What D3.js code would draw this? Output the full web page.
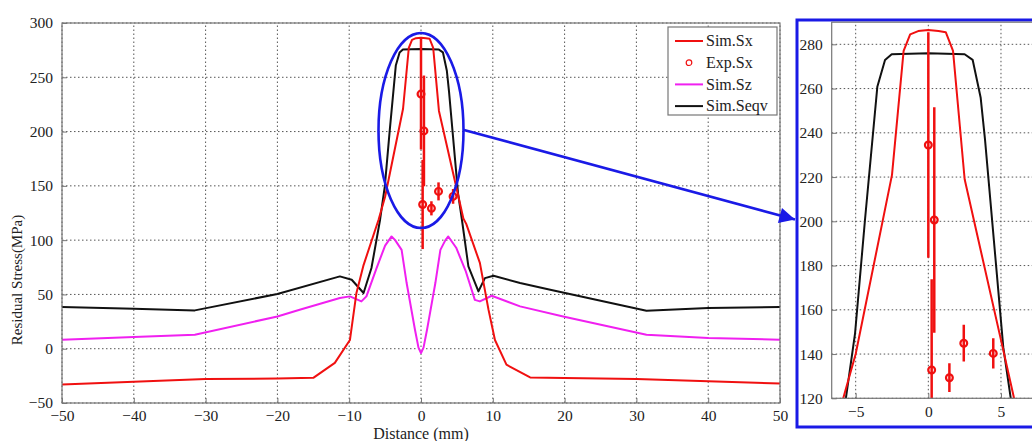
<!DOCTYPE html>
<html>
<head>
<meta charset="utf-8">
<script src="https://cdn.jsdelivr.net/npm/d3@7/dist/d3.min.js"></script>
<style>
  body { margin: 0; background: #fff; }
  svg { display: block; font-family: "Liberation Serif", "DejaVu Serif", serif; }
</style>
</head>
<body>
<div id="chart"></div>
<script>
// simulated Sx (red)
const sxDist   = [-50, -40, -30, -20, -15, -12, -9.9, -9.0, -8.0, -5.9, -5.0, -2.5, -1.7, -1.25, -0.7, 0, 0.7, 1.2, 1.7, 2.5, 5.15, 5.9, 6.3, 8.2, 9.4, 10.3, 11.9, 15.2, 20, 30, 40, 50];
const sxStress = [-33, -30.5, -28, -27.5, -26.8, -13, 8, 51, 77, 119, 140, 221, 277, 284.5, 286, 286.5, 286, 285.5, 277, 219, 142, 120, 115, 79, 36, 8, -14.7, -26.5, -27, -28, -30, -32];

// simulated Sz (magenta)
const szDist   = [-50, -40, -31.5, -20, -16.9, -11.3, -9.9, -8.3, -7.6, -6.2, -5.0, -4.1, -3.6, -2.7, -2.0, -0.84, -0.35, 0, 0.35, 0.84, 2.0, 2.7, 3.4, 3.8, 4.9, 6.2, 7.5, 8.2, 9.85, 13.8, 19.8, 31.4, 40, 50];
const szStress = [8.3, 10.8, 12.9, 29.7, 35.9, 46.7, 48.2, 43.6, 48.2, 74, 95, 103.4, 100, 91, 60.5, 17.5, 1, -4, 1, 17.5, 60.5, 91, 100, 103.4, 93, 72, 45, 43.6, 48.8, 39, 29.7, 12.9, 9.9, 8.3];

// simulated Seqv (black)
const seqvDist   = [-50, -40, -31.5, -20, -11.3, -9.65, -8.0, -6.9, -5.7, -5.04, -4.36, -3.51, -2.98, -2.52, 0, 2.5, 3.05, 3.6, 3.9, 5.16, 5.7, 6.6, 8.0, 8.9, 10.1, 13.8, 18, 31.4, 40, 50];
const seqvStress = [38.4, 36.8, 35.3, 50.4, 66.6, 63.5, 51.3, 74.3, 118.8, 149.5, 200.6, 260.8, 272.9, 275.5, 276, 275.5, 273, 256, 237, 143, 118.8, 75.8, 52.8, 65, 67.2, 60.5, 54.3, 35, 37.5, 38.4];

// experimental Sx with error bars
const expDist   = [0, 0.41, 0.23, 1.45, 2.44, 4.47];
const expStress = [234.5, 200.6, 132.8, 129.3, 144.9, 140.3];
const expErr    = [51, 51, 41, 6.5, 8.3, 6.8];

const mainXTicks = d3.range(-50, 51, 10);
const mainYTicks = d3.range(-50, 301, 50);
const insetXTicks = [-5, 0, 5];
const insetYTicks = d3.range(120, 281, 20);

const legendItems = [
  { name: 'Sim.Sx', color: '#f01010', type: 'line' },
  { name: 'Exp.Sx', color: '#f01010', type: 'circle' },
  { name: 'Sim.Sz', color: '#f020f0', type: 'line' },
  { name: 'Sim.Seqv', color: '#111', type: 'line' }
];

const serif = '"Liberation Serif", "DejaVu Serif", serif';
const width = 1032, height = 441;
const svg = d3.select('#chart').append('svg')
  .attr('width', width)
  .attr('height', height);

const toPts = (xs, ys) => xs.map((d, i) => [d, ys[i]]);
const series = [
  { pts: toPts(seqvDist, seqvStress), color: '#111' },
  { pts: toPts(szDist, szStress), color: '#f020f0' },
  { pts: toPts(sxDist, sxStress), color: '#f01010' }
];
const expPts = expDist.map((d, i) => ({ d: d, v: expStress[i], e: expErr[i] }));

// draws one panel: grid, frame, axes, curves, experiment points
function drawPanel(g, x, y, xTicks, yTicks, id) {
  const [x0, x1] = x.range();
  const [y0, y1] = y.range();

  g.append('rect')
    .attr('x', x0).attr('y', y1)
    .attr('width', x1 - x0).attr('height', y0 - y1)
    .attr('fill', '#fff');

  const grid = g.append('g')
    .attr('stroke', '#555')
    .attr('stroke-width', 1)
    .attr('stroke-dasharray', '1.5,2.5');
  grid.selectAll('.gx').data(xTicks).enter().append('line')
    .attr('x1', d => x(d)).attr('x2', d => x(d))
    .attr('y1', y0).attr('y2', y1);
  grid.selectAll('.gy').data(yTicks).enter().append('line')
    .attr('x1', x0).attr('x2', x1)
    .attr('y1', d => y(d)).attr('y2', d => y(d));

  svg.append('clipPath').attr('id', id)
    .append('rect')
    .attr('x', x0).attr('y', y1)
    .attr('width', x1 - x0).attr('height', y0 - y1);

  const plot = g.append('g').attr('clip-path', 'url(#' + id + ')');
  const line = d3.line().x(p => x(p[0])).y(p => y(p[1]));

  plot.selectAll('.curve').data(series).enter().append('path')
    .attr('d', s => line(s.pts))
    .attr('fill', 'none')
    .attr('stroke', s => s.color)
    .attr('stroke-width', 2)
    .attr('stroke-linejoin', 'round');

  plot.selectAll('.err').data(expPts).enter().append('line')
    .attr('x1', p => x(p.d)).attr('x2', p => x(p.d))
    .attr('y1', p => y(p.v - p.e)).attr('y2', p => y(p.v + p.e))
    .attr('stroke', '#f01010')
    .attr('stroke-width', 2.5);

  plot.selectAll('.pt').data(expPts).enter().append('circle')
    .attr('cx', p => x(p.d)).attr('cy', p => y(p.v))
    .attr('r', 3.4)
    .attr('fill', 'none')
    .attr('stroke', '#f01010')
    .attr('stroke-width', 2.2);

  g.append('rect')
    .attr('x', x0).attr('y', y1)
    .attr('width', x1 - x0).attr('height', y0 - y1)
    .attr('fill', 'none')
    .attr('stroke', '#777')
    .attr('stroke-width', 1.2);

  const ax = g.append('g')
    .attr('transform', 'translate(0,' + y0 + ')')
    .call(d3.axisBottom(x).tickValues(xTicks).tickSizeInner(-5).tickSizeOuter(0).tickPadding(9));
  const ay = g.append('g')
    .attr('transform', 'translate(' + x0 + ',0)')
    .call(d3.axisLeft(y).tickValues(yTicks).tickSizeInner(-5).tickSizeOuter(0).tickPadding(9));
  [ax, ay].forEach(a => {
    a.attr('font-family', serif).attr('font-size', 15.5);
    a.select('.domain').remove();
    a.selectAll('.tick line').attr('stroke', '#777');
    a.selectAll('.tick text')
      .attr('font-family', serif)
      .attr('font-size', 15.5)
      .attr('fill', '#222');
  });
  ax.selectAll('.tick text').attr('dy', '0.6em');
  ay.selectAll('.tick text').attr('dy', '0.32em');
}

// main chart
const mainX = d3.scaleLinear().domain([-50, 50]).range([62, 780]);
const mainY = d3.scaleLinear().domain([-50, 300]).range([403, 23]);
drawPanel(svg.append('g'), mainX, mainY, mainXTicks, mainYTicks, 'clipMain');

svg.append('text')
  .attr('x', 421).attr('y', 439)
  .attr('text-anchor', 'middle')
  .attr('font-size', 16)
  .attr('fill', '#222')
  .text('Distance (mm)');

svg.append('text')
  .attr('transform', 'translate(22,280) rotate(-90)')
  .attr('text-anchor', 'middle')
  .attr('font-size', 15)
  .attr('fill', '#222')
  .text('Residual Stress(MPa)');

// legend
const legend = svg.append('g').attr('transform', 'translate(668,27)');
legend.append('rect')
  .attr('width', 109).attr('height', 88)
  .attr('fill', '#fff')
  .attr('stroke', '#777')
  .attr('stroke-width', 1.2);
const item = legend.selectAll('.item').data(legendItems).enter().append('g')
  .attr('transform', (d, i) => 'translate(0,' + (14 + i * 21.7) + ')');
item.filter(d => d.type === 'line').append('line')
  .attr('x1', 7).attr('x2', 35)
  .attr('stroke', d => d.color)
  .attr('stroke-width', 2);
item.filter(d => d.type === 'circle').append('circle')
  .attr('cx', 21).attr('r', 2.8)
  .attr('fill', 'none')
  .attr('stroke', d => d.color)
  .attr('stroke-width', 1.2);
item.append('text')
  .attr('x', 38).attr('dy', '0.33em')
  .attr('font-size', 16)
  .attr('fill', '#222')
  .text(d => d.name);

// highlight ellipse and arrow
svg.append('ellipse')
  .attr('cx', mainX(0)).attr('cy', 130.5)
  .attr('rx', 42.5).attr('ry', 97.5)
  .attr('fill', 'none')
  .attr('stroke', '#1a1ae6')
  .attr('stroke-width', 2.6);

svg.append('defs').append('marker')
  .attr('id', 'arrow')
  .attr('viewBox', '0 0 10 10')
  .attr('refX', 10).attr('refY', 5)
  .attr('markerWidth', 8).attr('markerHeight', 6)
  .attr('markerUnits', 'strokeWidth')
  .attr('orient', 'auto')
  .append('path')
  .attr('d', 'M0,0L10,5L0,10Z')
  .attr('fill', '#1a1ae6');

svg.append('line')
  .attr('x1', 464).attr('y1', 130)
  .attr('x2', 795).attr('y2', 219.5)
  .attr('stroke', '#1a1ae6')
  .attr('stroke-width', 2.6)
  .attr('marker-end', 'url(#arrow)');

// inset (zoomed view)
svg.append('rect')
  .attr('x', 797).attr('y', 20)
  .attr('width', 260).attr('height', 407)
  .attr('fill', '#fff')
  .attr('stroke', '#1a1ae6')
  .attr('stroke-width', 3);

const insetX = d3.scaleLinear().domain([-6.65, 7.6]).range([831.7, 831.7 + 14.25 * 14.53]);
const insetY = d3.scaleLinear().domain([120, 290]).range([398.3, 22.2]);
drawPanel(svg.append('g'), insetX, insetY, insetXTicks, insetYTicks, 'clipInset');
</script>
</body>
</html>
